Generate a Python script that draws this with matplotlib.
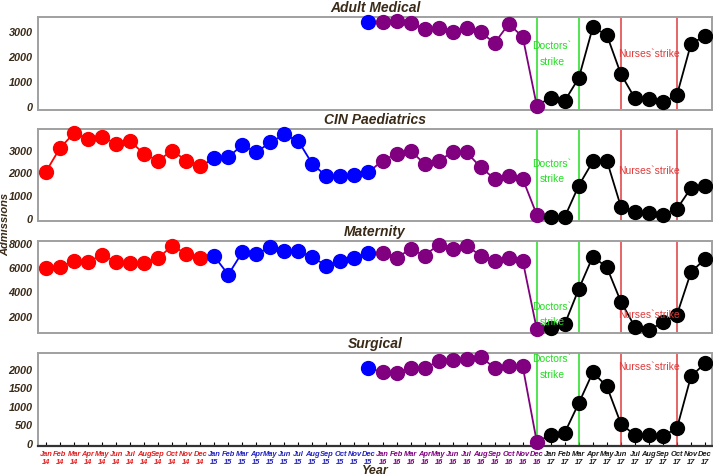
import numpy as np
import matplotlib.pyplot as plt

nan = np.nan

MONTHS = ["Jan", "Feb", "Mar", "Apr", "May", "Jun",
          "Jul", "Aug", "Sep", "Oct", "Nov", "Dec"]
YEARS = ["14", "15", "16", "17"]
YEAR_COLORS = ["#ff0000", "#0000ff", "#800080", "#000000"]
TICK_COLORS = ["#e02020", "#2020c0", "#800080", "#1a1a1a"]

# monthly admissions, Jan 2014 .. Dec 2017
adult_medical = [nan] * 23 + [
    3350,                                                           # Dec 15
    3350, 3410, 3320, 3080, 3120, 2950, 3120, 2950, 2520, 3280, 2770, 20,   # 2016
    330, 210, 1120, 3150, 2840, 1280, 310, 280, 150, 440, 2480, 2810]      # 2017

cin_paediatrics = [
    2040, 3070, 3720, 3470, 3570, 3250, 3370, 2810, 2520, 2960, 2520, 2270,
    2620, 2670, 3200, 2880, 3320, 3660, 3370, 2370, 1840, 1860, 1890, 2010,
    2520, 2810, 2960, 2370, 2520, 2880, 2880, 2230, 1720, 1860, 1720, 160,
    40, 60, 1430, 2480, 2520, 510, 260, 220, 160, 410, 1320, 1430]

maternity = [
    5920, 6000, 6550, 6460, 7020, 6460, 6360, 6360, 6740, 7790, 7100, 6770,
    6910, 5390, 7240, 7100, 7650, 7320, 7320, 6830, 6130, 6500, 6770, 7150,
    7150, 6770, 7510, 6960, 7870, 7510, 7790, 6960, 6550, 6770, 6550, 900,
    980, 1310, 4210, 6880, 6000, 3160, 1090, 820, 1450, 2080, 5590, 6690]

surgical = [nan] * 23 + [
    2018,
    1925, 1880, 2026, 2026, 2208, 2244, 2272, 2335, 2026, 2090, 2072, 27,
    200, 272, 1072, 1908, 1527, 517, 200, 200, 180, 390, 1800, 2154]

PANELS = [
    ("Adult Medical", adult_medical, (-160, 3560), [0, 1000, 2000, 3000], 0.61),
    ("CIN Paediatrics", cin_paediatrics, (-120, 3900), [0, 1000, 2000, 3000], 0.55),
    ("Maternity", maternity, (570, 8170), [2000, 4000, 6000, 8000], 0.21),
    ("Surgical", surgical, (-93, 2435), [0, 500, 1000, 1500, 2000], 0.86),
]

DOCTORS = (35, 38)   # Dec 16 .. Mar 17
NURSES = (41, 45)    # Jun 17 .. Oct 17

BROWN = "#3a2a18"
plt.rcParams["font.family"] = ["Liberation Sans", "DejaVu Sans"]

fig = plt.figure(figsize=(7.13, 4.77), dpi=100)
left, width = 38 / 713, 674 / 713
bottoms = [366, 255, 143, 30]
heights = [93, 92, 92, 93]
x = np.arange(48)

for i, (title, vals, ylim, yticks, ty) in enumerate(PANELS):
    ax = fig.add_axes([left, bottoms[i] / 477, width, heights[i] / 477])
    v = np.array(vals, dtype=float)
    for k in range(4):
        s, e = max(12 * k - 1, 0), 12 * k + 11
        ax.plot(x[s:e + 1], v[s:e + 1], color=YEAR_COLORS[k], lw=1.3, zorder=3)
    for k in range(4):
        s, e = 12 * k, 12 * k + 11
        ax.plot(x[s:e + 1], v[s:e + 1], ls="none", marker="o", ms=10,
                color=YEAR_COLORS[k], mec=YEAR_COLORS[k], zorder=4, clip_on=False)

    for xv in DOCTORS:
        ax.axvline(xv, color="#22dd22", lw=1.1, zorder=2)
    for xv in NURSES:
        ax.axvline(xv, color="#e03a3a", lw=1.1, zorder=2)
    ax.text(36.1, ty, "Doctors`\nstrike", transform=ax.get_xaxis_transform(),
            color="#22dd22", fontsize=7.5, ha="center", va="center",
            linespacing=1.7, zorder=5)
    ax.text(43, ty, "Nurses`strike", transform=ax.get_xaxis_transform(),
            color="#e03a3a", fontsize=7.5, ha="center", va="center", zorder=5)

    ax.set_xlim(-0.57, 47.5)
    ax.set_ylim(*ylim)
    ax.set_yticks(yticks)
    ax.set_yticklabels([str(t) for t in yticks], fontsize=7.8, fontweight="bold",
                       fontstyle="italic", color=BROWN)
    ax.tick_params(axis="y", length=0, pad=4)
    for sp in ax.spines.values():
        sp.set_color("#a0a0a0")
        sp.set_linewidth(1.4)

    ax.text(0.5, 1.0 + 10 / heights[i], title, transform=ax.transAxes,
            ha="center", va="center", fontsize=10, fontweight="bold",
            fontstyle="italic", color=BROWN)

    if i < 3:
        ax.set_xticks([])
    else:
        ax.set_xticks(x)
        labels = [f"{MONTHS[j % 12]}\n{YEARS[j // 12]}" for j in range(48)]
        ax.set_xticklabels(labels, fontsize=5.4, fontweight="bold",
                           fontstyle="italic", linespacing=1.25)
        for j, lab in enumerate(ax.get_xticklabels()):
            lab.set_color(TICK_COLORS[j // 12])
        ax.tick_params(axis="x", direction="in", length=3, pad=3)
        for j, tl in enumerate(ax.xaxis.get_major_ticks()):
            tl.tick1line.set_color(TICK_COLORS[j // 12])
        ax.spines["bottom"].set_color("#333333")
        ax.spines["bottom"].set_linewidth(1.6)

fig.text(375 / 713, 1 - 471 / 477, "Year", ha="center", va="center",
         fontsize=9, fontweight="bold", fontstyle="italic", color=BROWN)
fig.text(5 / 713, 1 - 224 / 477, "Admissions", ha="center", va="center",
         rotation=90, fontsize=8, fontweight="bold", fontstyle="italic", color=BROWN)

fig.savefig("out.png", dpi=100)
